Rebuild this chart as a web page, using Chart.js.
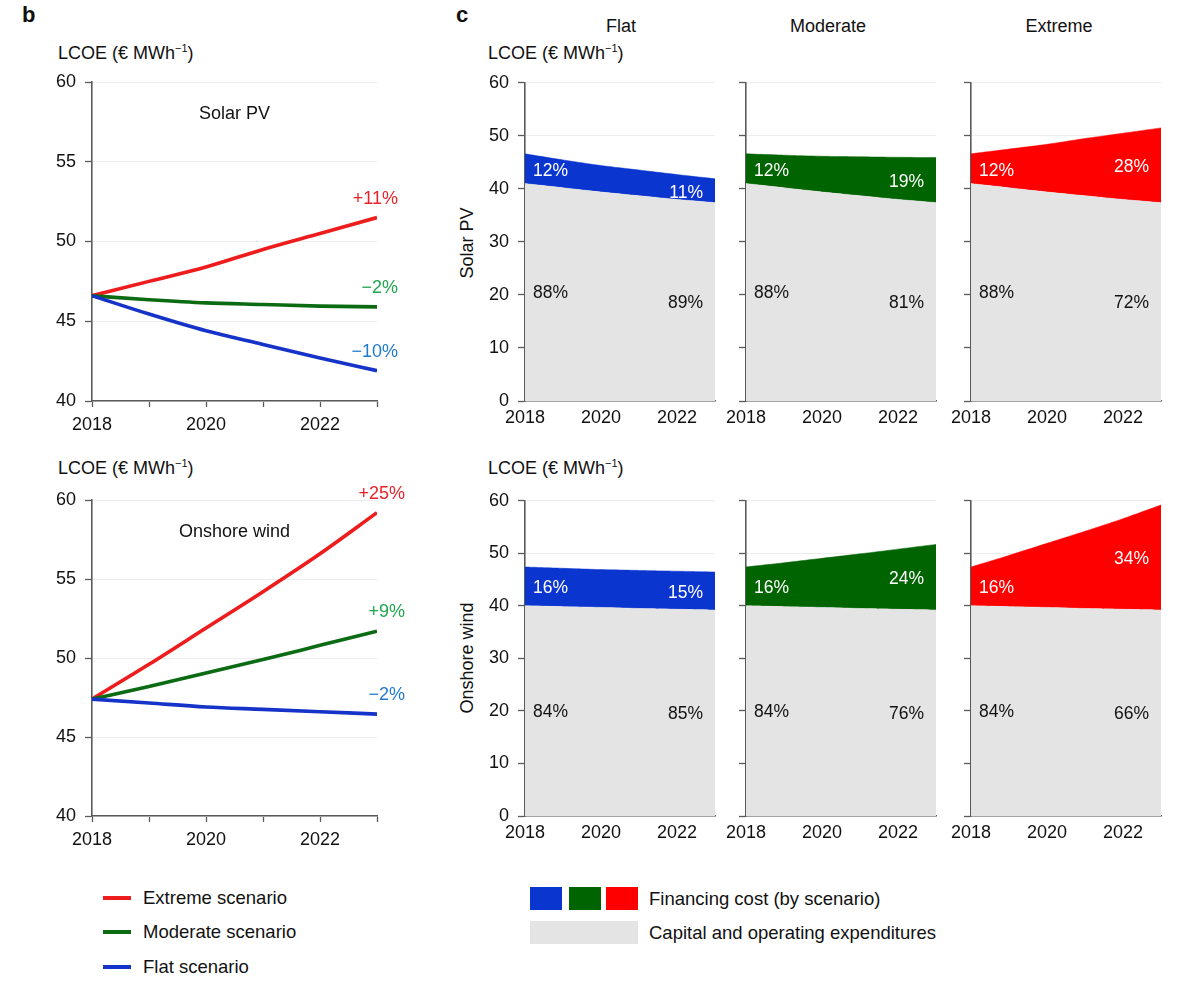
<!DOCTYPE html>
<html>
<head>
<meta charset="utf-8">
<script src="https://cdn.jsdelivr.net/npm/chart.js@4.4.1/dist/chart.umd.min.js"></script>
<style>
  html, body { margin: 0; padding: 0; background: #fff; }
  body { width: 1200px; height: 993px; position: relative; overflow: hidden;
         font-family: "Liberation Sans", Arial, Helvetica, sans-serif; color: #111; }
  canvas { position: absolute; }
  .t { position: absolute; white-space: nowrap; font-size: 18px; line-height: 22px; }
  .lg { font-size: 18.5px; }
  .panel { position: absolute; font-weight: bold; font-size: 22px; }
  .sup { font-size: 11px; position: relative; top: -7px; }
  .ctr { transform: translateX(-50%); }
  .rot { transform: translate(-50%, -50%) rotate(-90deg); }
  .sw { position: absolute; }
</style>
</head>
<body>
<div class="panel" style="left:22px;top:2px;">b</div>
<div class="panel" style="left:456px;top:2px;">c</div>

<div class="t" style="left:58px;top:42px;">LCOE (€ MWh<span class="sup">−1</span>)</div>
<div class="t" style="left:58px;top:457px;">LCOE (€ MWh<span class="sup">−1</span>)</div>
<div class="t" style="left:488px;top:42px;">LCOE (€ MWh<span class="sup">−1</span>)</div>
<div class="t" style="left:488px;top:457px;">LCOE (€ MWh<span class="sup">−1</span>)</div>

<div class="t ctr" style="left:621px;top:15px;">Flat</div>
<div class="t ctr" style="left:828px;top:15px;">Moderate</div>
<div class="t ctr" style="left:1059px;top:15px;">Extreme</div>

<div class="t rot" style="left:467px;top:243px;">Solar PV</div>
<div class="t rot" style="left:467px;top:658px;">Onshore wind</div>

<!-- legends -->
<div class="sw" style="left:103px;top:896px;width:28px;height:4px;background:#ee1c1c;"></div>
<div class="sw" style="left:103px;top:930px;width:28px;height:4px;background:#0b6b12;"></div>
<div class="sw" style="left:103px;top:965px;width:28px;height:4px;background:#1533c8;"></div>
<div class="t lg" style="left:143px;top:887px;">Extreme scenario</div>
<div class="t lg" style="left:143px;top:921px;">Moderate scenario</div>
<div class="t lg" style="left:143px;top:956px;">Flat scenario</div>

<div class="sw" style="left:530px;top:887px;width:32px;height:23px;background:#0b35cf;"></div>
<div class="sw" style="left:569px;top:887px;width:32px;height:23px;background:#006400;"></div>
<div class="sw" style="left:606px;top:887px;width:32px;height:23px;background:#ff0000;"></div>
<div class="sw" style="left:530px;top:921px;width:108px;height:23px;background:#e4e4e4;"></div>
<div class="t lg" style="left:649px;top:888px;">Financing cost (by scenario)</div>
<div class="t lg" style="left:649px;top:922px;">Capital and operating expenditures</div>

<script>
const FONT = '"Liberation Sans", Arial, Helvetica, sans-serif';

const years = [2018, 2019, 2020, 2021, 2022, 2023];

// LCOE, € per MWh
const solarExtreme  = [46.6, 47.5, 48.4, 49.5, 50.5, 51.5];
const solarModerate = [46.6, 46.35, 46.15, 46.05, 45.95, 45.9];
const solarFlat     = [46.6, 45.45, 44.4, 43.55, 42.7, 41.9];
const solarCapex    = [41.0, 40.2, 39.4, 38.7, 38.0, 37.4];

const windExtreme  = [47.4, 49.6, 51.9, 54.2, 56.6, 59.2];
const windModerate = [47.4, 48.2, 49.05, 49.9, 50.8, 51.7];
const windFlat     = [47.4, 47.15, 46.9, 46.75, 46.6, 46.45];
const windCapex    = [40.0, 39.85, 39.7, 39.5, 39.35, 39.2];

// change 2018 -> 2023 (extreme, moderate, flat)
const solarChange = ['+11%', '\u22122%', '\u221210%'];
const windChange  = ['+25%', '+9%', '\u22122%'];

// shares at 2018 / 2023 (flat, moderate, extreme)
const solarFinPct   = [['12%', '11%'], ['12%', '19%'], ['12%', '28%']];
const solarCapexPct = [['88%', '89%'], ['88%', '81%'], ['88%', '72%']];
const windFinPct    = [['16%', '15%'], ['16%', '24%'], ['16%', '34%']];
const windCapexPct  = [['84%', '85%'], ['84%', '76%'], ['84%', '66%']];

const yTicksB = [40, 45, 50, 55, 60];
const yTicksC = [0, 10, 20, 30, 40, 50, 60];

const C = {
  red: '#ee1c1c', green: '#0b6b12', blue: '#1533c8',
  redTxt: '#e8222a', greenTxt: '#1fa64e', blueTxt: '#1f7bd0',
  areaBlue: '#0b35cf', areaGreen: '#006400', areaRed: '#ff0000', grey: '#e4e4e4',
  axis: '#5a5a5a', grid: '#ededed',
};

Chart.defaults.font.family = FONT;
Chart.defaults.color = '#111';

function notes(items) {
  return {
    id: 'notes',
    afterDatasetsDraw(chart) {
      const { ctx, scales: { x, y } } = chart;
      items.forEach(n => {
        ctx.save();
        ctx.font = `${n.size || 17.5}px ${FONT}`;
        ctx.fillStyle = n.color;
        ctx.textAlign = n.align || 'left';
        ctx.textBaseline = 'middle';
        ctx.fillText(n.text, x.getPixelForValue(n.x) + (n.dx || 0), y.getPixelForValue(n.y) + (n.dy || 0));
        ctx.restore();
      });
    },
  };
}

function addCanvas(left, top, w, h) {
  const c = document.createElement('canvas');
  c.style.left = left + 'px'; c.style.top = top + 'px';
  c.style.width = w + 'px'; c.style.height = h + 'px';
  c.width = w; c.height = h;
  document.body.appendChild(c);
  return c;
}

function pts(arr) { return years.map((x, i) => ({ x, y: arr[i] })); }

function scalesFor(o) {
  return {
    x: {
      type: 'linear', min: 2018, max: 2023,
      ticks: {
        stepSize: 1, autoSkip: false, maxRotation: 0, padding: o.xPad,
        font: { size: o.fs }, color: '#111',
        callback: v => (v % 2 === 0 && v < 2023) ? String(v) : '',
      },
      grid: { drawOnChartArea: false, drawTicks: o.xTicks, tickLength: 6, tickColor: C.axis, tickWidth: 1.3 },
      border: { color: C.axis, width: 1.6 },
      afterFit: s => { s.height = o.xH; },
    },
    y: {
      min: o.yMin, max: o.yMax,
      afterBuildTicks: s => { s.ticks = o.yTicks.map(v => ({ value: v })); },
      ticks: {
        padding: 9, font: { size: o.fs }, color: '#111',
        callback: v => o.yLabels ? String(v) : '',
      },
      grid: { color: C.grid, lineWidth: 1, tickLength: 7, tickColor: C.axis, tickWidth: 1.3 },
      border: { color: C.axis, width: 1.6 },
      afterFit: s => { s.width = o.yW; },
    },
  };
}

function lineChart(box, series, labels, title, dx) {
  const cv = addCanvas(box[0], box[1], box[2], box[3]);
  const cols = [C.red, C.green, C.blue];
  const tcols = [C.redTxt, C.greenTxt, C.blueTxt];
  const items = series.map((s, i) => ({
    text: labels[i], x: 2023, y: s[s.length - 1], dx: dx, dy: -19, align: 'right', color: tcols[i], size: 18,
  }));
  items.push({ text: title, x: 2020.5, y: 58, align: 'center', color: '#111', size: 18 });
  return new Chart(cv, {
    type: 'line',
    data: {
      datasets: series.map((s, i) => ({
        data: pts(s), borderColor: cols[i], borderWidth: 3.6,
        pointRadius: 0, cubicInterpolationMode: 'monotone', fill: false,
      })).reverse(),
    },
    options: {
      responsive: false, animation: false, devicePixelRatio: 1,
      layout: { padding: { top: 22, right: 43, left: 0, bottom: 0 } },
      plugins: { legend: { display: false }, tooltip: { enabled: false } },
      scales: scalesFor({ fs: 18, xPad: 7, xTicks: true, xH: 39, yW: 52, yMin: 40, yMax: 60, yTicks: yTicksB, yLabels: true }),
    },
    plugins: [notes(items)],
  });
}

function areaChart(box, total, capex, color, finPct, capexPct, yLabels) {
  const cv = addCanvas(box[0], box[1], box[2], box[3]);
  const n = years.length - 1;
  const yW = yLabels ? 45 : 46;
  const items = [
    { text: finPct[0], x: 2018, dx: 8, dy: 2, y: (total[0] + capex[0]) / 2, color: '#fff', align: 'left' },
    { text: finPct[1], x: 2023, dx: -12, dy: 2, y: (total[n] + capex[n]) / 2, color: '#fff', align: 'right' },
    { text: capexPct[0], x: 2018, dx: 8, dy: 1, y: capex[0] / 2, color: '#111', align: 'left' },
    { text: capexPct[1], x: 2023, dx: -12, dy: 1, y: capex[n] / 2, color: '#111', align: 'right' },
  ];
  return new Chart(cv, {
    type: 'line',
    data: {
      datasets: [
        { data: pts(capex), fill: 'origin', backgroundColor: C.grey, borderColor: C.grey, borderWidth: 0.5, pointRadius: 0, tension: 0.2 },
        { data: pts(total), fill: '-1', backgroundColor: color, borderColor: color, borderWidth: 0.5, pointRadius: 0, tension: 0.2 },
      ],
    },
    options: {
      responsive: false, animation: false, devicePixelRatio: 1,
      layout: { padding: { top: 19, right: box[2] - box[4] - yW, left: 0, bottom: 0 } },
      plugins: { legend: { display: false }, tooltip: { enabled: false }, filler: { propagate: false } },
      scales: scalesFor({ fs: 18, xPad: 6, xTicks: false, xH: 29, yW: yW, yMin: 0, yMax: 60, yTicks: yTicksC, yLabels }),
    },
    plugins: [notes(items)],
  });
}

// panel b
lineChart([40, 60, 380, 380], [solarExtreme, solarModerate, solarFlat], solarChange, 'Solar PV', 21);
lineChart([40, 478, 380, 377], [windExtreme, windModerate, windFlat], windChange, 'Onshore wind', 28);

// panel c columns: [canvas left, canvas width, plot width, show y labels]
const colsC = [[480, 250, 190, true], [700, 250, 190, false], [925, 250, 190, false]];
const solarTotals = [solarFlat, solarModerate, solarExtreme];
const windTotals  = [windFlat, windModerate, windExtreme];
const areaCols = [C.areaBlue, C.areaGreen, C.areaRed];
colsC.forEach((c, i) => {
  areaChart([c[0], 63, c[1], 367, c[2]], solarTotals[i], solarCapex, areaCols[i], solarFinPct[i], solarCapexPct[i], c[3]);
  areaChart([c[0], 481, c[1], 364, c[2]], windTotals[i], windCapex, areaCols[i], windFinPct[i], windCapexPct[i], c[3]);
});
</script>
</body>
</html>
